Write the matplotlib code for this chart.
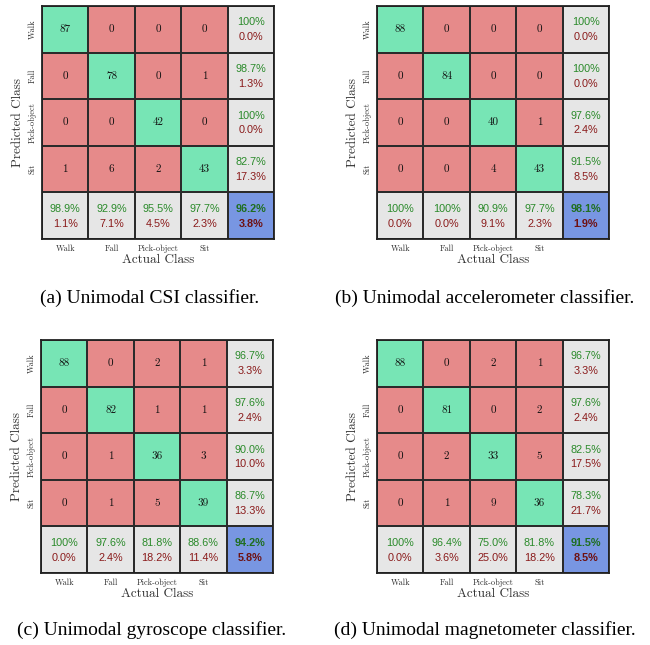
import numpy as np
import matplotlib
matplotlib.use("Agg")
import matplotlib.pyplot as plt
from matplotlib.colors import ListedColormap

# confusion matrices: rows = predicted class, cols = actual class
classes = ["Walk", "Fall", "Pick-object", "Sit"]

cm_csi = [[87, 0, 0, 0],
          [0, 78, 0, 1],
          [0, 0, 42, 0],
          [1, 6, 2, 43]]
cm_acc = [[88, 0, 0, 0],
          [0, 84, 0, 0],
          [0, 0, 40, 1],
          [0, 0, 4, 43]]
cm_gyro = [[88, 0, 2, 1],
           [0, 82, 1, 1],
           [0, 1, 36, 3],
           [0, 1, 5, 39]]
cm_mag = [[88, 0, 2, 1],
          [0, 81, 0, 2],
          [0, 2, 33, 5],
          [0, 1, 9, 36]]

captions = ["(a) Unimodal CSI classifier.",
            "(b) Unimodal accelerometer classifier.",
            "(c) Unimodal gyroscope classifier.",
            "(d) Unimodal magnetometer classifier."]

GREEN = "#77e5b5"
RED = "#e68a8a"
GRAY = "#e6e6e6"
BLUE = "#7896e2"
TXT_GOOD = "#2a8a2a"
TXT_BAD = "#8a1a1a"
cmap = ListedColormap([RED, GREEN, GRAY, BLUE])

SERIF = "cmr10"
SANS = "Liberation Sans"


def pct(v):
    return "100%" if round(v, 1) == 100 else "%.1f%%" % v


def draw_cm(ax, cm):
    cm = np.array(cm)
    n = len(cm)
    codes = np.zeros((n + 1, n + 1))
    codes[:n, :n] = np.eye(n)
    codes[n, :] = 2
    codes[:, n] = 2
    codes[n, n] = 3
    ax.pcolormesh(codes, cmap=cmap, vmin=-0.5, vmax=3.5,
                  edgecolors="#2b2b2b", linewidth=1.1)
    ax.set_xlim(0, n + 1)
    ax.set_ylim(n + 1, 0)
    for sp in ax.spines.values():
        sp.set_linewidth(1.3)
        sp.set_color("#222222")

    for i in range(n):
        for j in range(n):
            ax.text(j + 0.5, i + 0.5, str(cm[i, j]), ha="center", va="center",
                    fontsize=8, family=SERIF, color="#111111")

    row_ok = 100 * np.diag(cm) / cm.sum(axis=1)
    col_ok = 100 * np.diag(cm) / cm.sum(axis=0)
    total_ok = 100 * np.trace(cm) / cm.sum()

    def summary(x, y, ok, bold=False):
        w = "bold" if bold else "normal"
        good = "#1f6e1f" if bold else TXT_GOOD
        bad = "#6e1010" if bold else TXT_BAD
        ax.text(x, y - 0.15, pct(ok), ha="center", va="center", fontsize=7.8,
                color=good, family=SANS, weight=w)
        ax.text(x, y + 0.17, pct(100 - ok), ha="center", va="center", fontsize=7.8,
                color=bad, family=SANS, weight=w)

    for i in range(n):
        summary(n + 0.5, i + 0.5, row_ok[i])
        summary(i + 0.5, n + 0.5, col_ok[i])
    summary(n + 0.5, n + 0.5, total_ok, bold=True)

    ax.set_xticks(np.arange(n) + 0.5)
    ax.set_xticklabels(classes, family=SERIF, fontsize=6, color="#333333")
    ax.set_yticks(np.arange(n) + 0.5)
    ax.set_yticklabels(classes, family=SERIF, fontsize=6, color="#333333",
                       rotation=90, va="center")
    ax.tick_params(length=0, pad=4)
    ax.set_xlabel("Actual Class", family=SERIF, fontsize=9.5, color="#333333",
                  labelpad=1)
    ax.set_ylabel("Predicted Class", family=SERIF, fontsize=9.5, color="#333333",
                  labelpad=3)


fig = plt.figure(figsize=(6.5, 6.45), dpi=100)
W, H = 650.0, 645.0
boxes = [(42, 6), (377, 6), (41, 340), (377, 340)]
cap_pos = [(150, 298), (485, 298), (152, 630), (485, 630)]
gw, gh = 232, 233

for cm, (x0, y0), cap, (cx, cy) in zip([cm_csi, cm_acc, cm_gyro, cm_mag],
                                      boxes, captions, cap_pos):
    ax = fig.add_axes([x0 / W, 1 - (y0 + gh) / H, gw / W, gh / H])
    draw_cm(ax, cm)
    fig.text(cx / W, 1 - cy / H, cap, ha="center", va="center",
             family="Liberation Serif", fontsize=14)

fig.savefig("out.png", dpi=100)
